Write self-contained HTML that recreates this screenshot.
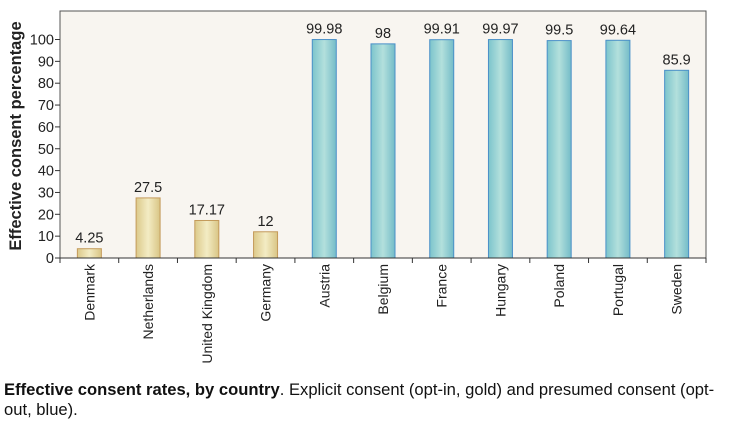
<!DOCTYPE html>
<html><head><meta charset="utf-8"><style>
body{margin:0;background:#fff;width:729px;height:426px;overflow:hidden;font-family:"Liberation Sans",sans-serif}
#cap{position:absolute;left:4px;top:380px;width:725px;font-size:16.6px;line-height:20px;color:#111;white-space:nowrap}
</style></head><body>
<svg id="chart" width="729" height="380" style="position:absolute;left:0;top:0">
<defs>
<linearGradient id="gold" x1="0" x2="1"><stop offset="0" stop-color="#dcc98a"/><stop offset="0.5" stop-color="#f3ecc4"/><stop offset="1" stop-color="#d9c585"/></linearGradient>
<linearGradient id="blue" x1="0" x2="1"><stop offset="0" stop-color="#7cc4cc"/><stop offset="0.5" stop-color="#b3e0dc"/><stop offset="1" stop-color="#74bcc8"/></linearGradient>
</defs>
<rect x="60" y="11" width="646" height="247" fill="#f8f5f0" stroke="#555" stroke-width="1"/>
<g id="g"></g>
<text transform="translate(21,136) rotate(-90)" text-anchor="middle" font-size="16.5" font-weight="bold" fill="#222">Effective consent percentage</text>
</svg>
<div id="cap"><b>Effective consent rates, by country</b>. Explicit consent (opt-in, gold) and presumed consent (opt-<br>out, blue).</div>
<script>
const categories=["Denmark","Netherlands","United Kingdom","Germany","Austria","Belgium","France","Hungary","Poland","Portugal","Sweden"];
const values=[4.25,27.5,17.17,12,99.98,98,99.91,99.97,99.5,99.64,85.9];
const valueLabels=["4.25","27.5","17.17","12","99.98","98","99.91","99.97","99.5","99.64","85.9"];
const optIn=[true,true,true,true,false,false,false,false,false,false,false];
const yTicks=[0,10,20,30,40,50,60,70,80,90,100];
const L=60,R=706,B=258,T100=39.5;
const y=v=>B-(B-T100)*v/100;
const bw=(R-L)/categories.length;
const x=i=>L+bw*i;
const g=document.getElementById('g');
const NS='http://www.w3.org/2000/svg';
function mk(t,a){const e=document.createElementNS(NS,t);for(const k in a)e.setAttribute(k,a[k]);g.appendChild(e);return e;}
yTicks.forEach(v=>{
 const t=mk('line',{x1:L-5,x2:L,y1:y(v),y2:y(v),stroke:'#333'});
 
 
 const l=mk('text',{x:L-6,y:y(v)+5,'text-anchor':'end','font-size':14.5,fill:'#222'});
 
 
 l.textContent=v;
});
for(let i=0;i<=categories.length;i++){
 const t=mk('line',{x1:x(i),x2:x(i),y1:B,y2:B+5,stroke:'#333'});
 
 
}
categories.forEach((c,i)=>{
 const cx=x(i)+bw/2,w=24;
 const r=mk('rect',{x:cx-w/2,y:y(values[i]),width:w,height:B-y(values[i]),fill:optIn[i]?'url(#gold)':'url(#blue)',stroke:optIn[i]?'#c49a5a':'#4a90c8','stroke-width':1});
 
 
 const v=mk('text',{x:cx,y:y(values[i])-6,'text-anchor':'middle','font-size':14.5,fill:'#222'});
 
 
 v.textContent=valueLabels[i];
 const l=mk('text',{transform:`translate(${cx+5},264) rotate(-90)`,'text-anchor':'end','font-size':14,fill:'#222'});
 
 
 l.textContent=c;
});
mk('line',{x1:L,x2:R,y1:B,y2:B,stroke:'#333'});
</script>
</body></html>
